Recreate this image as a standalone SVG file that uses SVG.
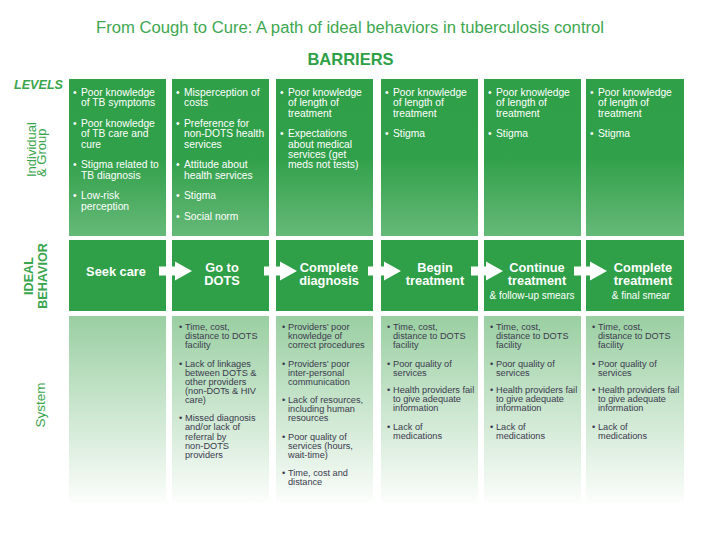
<svg xmlns="http://www.w3.org/2000/svg" width="708" height="539" viewBox="0 0 708 539">
<defs>
<linearGradient id="gTop" x1="0" y1="0" x2="0" y2="1">
<stop offset="0" stop-color="#2f9f48"/>
<stop offset="0.5" stop-color="#31a04a"/>
<stop offset="1" stop-color="#66b978"/>
</linearGradient>
<linearGradient id="gBot" x1="0" y1="0" x2="0" y2="1">
<stop offset="0" stop-color="#9acfa2"/>
<stop offset="1" stop-color="#fbfdfb"/>
</linearGradient>
<style>
text{font-family:"Liberation Sans",Arial,Helvetica,sans-serif}
.top{fill:url(#gTop)}
.mid{fill:#2f9f48}
.bot{fill:url(#gBot)}
.tt{fill:#ffffff;font-size:10.3px}
.mt{fill:#ffffff;font-size:12.8px;font-weight:bold;text-anchor:middle}
.ms{fill:#ffffff;font-size:10px;text-anchor:middle}
.bt{fill:#3b3a4e;font-size:9.2px}
.lab{fill:#3aa54d}
.arrow{fill:#ffffff}
</style>
</defs>
<rect width="708" height="539" fill="#ffffff"/>
<g id="title">
<text x="350" y="33" text-anchor="middle" font-size="16" fill="#3ea750" textLength="508" lengthAdjust="spacingAndGlyphs">From Cough to Cure: A path of ideal behaviors in tuberculosis control</text>
<text x="350.5" y="65" text-anchor="middle" font-size="16.5" font-weight="bold" fill="#2f9f48">BARRIERS</text>
</g>
<g id="labels">
<text class="lab" x="14" y="89" font-size="12.6" font-weight="bold" font-style="italic">LEVELS</text>
<text class="lab" font-size="13" transform="translate(36,177) rotate(-90)">Individual</text>
<text class="lab" font-size="13" transform="translate(46,177) rotate(-90)">&amp; Group</text>
<text class="lab" font-size="12.6" font-weight="bold" text-anchor="middle" transform="translate(33,276) rotate(-90)">IDEAL</text>
<text class="lab" font-size="12.6" font-weight="bold" text-anchor="middle" transform="translate(47,276) rotate(-90)">BEHAVIOR</text>
<text class="lab" font-size="13.5" text-anchor="middle" transform="translate(45,405) rotate(-90)">System</text>
</g>
<g id="barrier-1">
<rect class="top" x="69" y="79" width="97" height="157"/>
<g class="tt">
<text x="73" y="96">•</text><text x="81" y="96">Poor knowledge</text><text x="81" y="106.3">of TB symptoms</text>
<text x="73" y="127">•</text><text x="81" y="127">Poor knowledge</text><text x="81" y="137.3">of TB care and</text><text x="81" y="147.6">cure</text>
<text x="73" y="168.3">•</text><text x="81" y="168.3">Stigma related to</text><text x="81" y="178.6">TB diagnosis</text>
<text x="73" y="199.3">•</text><text x="81" y="199.3">Low-risk</text><text x="81" y="209.6">perception</text>
</g>
</g>
<g id="barrier-2">
<rect class="top" x="172" y="79" width="97" height="157"/>
<g class="tt">
<text x="176" y="96">•</text><text x="184" y="96">Misperception of</text><text x="184" y="106.3">costs</text>
<text x="176" y="127">•</text><text x="184" y="127">Preference for</text><text x="184" y="137.3">non-DOTS health</text><text x="184" y="147.6">services</text>
<text x="176" y="168.3">•</text><text x="184" y="168.3">Attitude about</text><text x="184" y="178.6">health services</text>
<text x="176" y="199.3">•</text><text x="184" y="199.3">Stigma</text>
<text x="176" y="220">•</text><text x="184" y="220">Social norm</text>
</g>
</g>
<g id="barrier-3">
<rect class="top" x="276" y="79" width="97" height="157"/>
<g class="tt">
<text x="280" y="96">•</text><text x="288" y="96">Poor knowledge</text><text x="288" y="106.3">of length of</text><text x="288" y="116.6">treatment</text>
<text x="280" y="137.3">•</text><text x="288" y="137.3">Expectations</text><text x="288" y="147.6">about medical</text><text x="288" y="157.9">services (get</text><text x="288" y="168.2">meds not tests)</text>
</g>
</g>
<g id="barrier-4">
<rect class="top" x="381" y="79" width="97" height="157"/>
<g class="tt">
<text x="385" y="96">•</text><text x="393" y="96">Poor knowledge</text><text x="393" y="106.3">of length of</text><text x="393" y="116.6">treatment</text>
<text x="385" y="137.3">•</text><text x="393" y="137.3">Stigma</text>
</g>
</g>
<g id="barrier-5">
<rect class="top" x="484" y="79" width="97" height="157"/>
<g class="tt">
<text x="488" y="96">•</text><text x="496" y="96">Poor knowledge</text><text x="496" y="106.3">of length of</text><text x="496" y="116.6">treatment</text>
<text x="488" y="137.3">•</text><text x="496" y="137.3">Stigma</text>
</g>
</g>
<g id="barrier-6">
<rect class="top" x="586" y="79" width="98" height="157"/>
<g class="tt">
<text x="590" y="96">•</text><text x="598" y="96">Poor knowledge</text><text x="598" y="106.3">of length of</text><text x="598" y="116.6">treatment</text>
<text x="590" y="137.3">•</text><text x="598" y="137.3">Stigma</text>
</g>
</g>
<g id="behavior-1">
<rect class="mid" x="69" y="240" width="97" height="71"/>
<text class="mt" x="116" y="276">Seek care</text>
</g>
<g id="behavior-2">
<rect class="mid" x="172" y="240" width="97" height="71"/>
<text class="mt" x="222" y="271.5">Go to</text><text class="mt" x="222" y="285">DOTS</text>
</g>
<g id="behavior-3">
<rect class="mid" x="276" y="240" width="97" height="71"/>
<text class="mt" x="329" y="271.5">Complete</text><text class="mt" x="329" y="285">diagnosis</text>
</g>
<g id="behavior-4">
<rect class="mid" x="381" y="240" width="97" height="71"/>
<text class="mt" x="435" y="271.5">Begin</text><text class="mt" x="435" y="285">treatment</text>
</g>
<g id="behavior-5">
<rect class="mid" x="484" y="240" width="97" height="71"/>
<text class="mt" x="537" y="271.5">Continue</text><text class="mt" x="537" y="285">treatment</text>
<text class="ms" x="532" y="299">&amp; follow-up smears</text>
</g>
<g id="behavior-6">
<rect class="mid" x="586" y="240" width="98" height="71"/>
<text class="mt" x="643" y="271.5">Complete</text><text class="mt" x="643" y="285">treatment</text>
<text class="ms" x="641" y="299">&amp; final smear</text>
</g>
<g id="system-1">
<rect class="bot" x="69" y="316" width="97" height="186"/>
</g>
<g id="system-2">
<rect class="bot" x="172" y="316" width="97" height="186"/>
<g class="bt">
<text x="179" y="330">•</text><text x="185" y="330">Time, cost,</text><text x="185" y="339">distance to DOTS</text><text x="185" y="348">facility</text>
<text x="179" y="366.5">•</text><text x="185" y="366.5">Lack of linkages</text><text x="185" y="375.5">between DOTS &amp;</text><text x="185" y="384.5">other providers</text><text x="185" y="393.5">(non-DOTs &amp; HIV</text><text x="185" y="402.5">care)</text>
<text x="179" y="421">•</text><text x="185" y="421">Missed diagnosis</text><text x="185" y="430">and/or lack of</text><text x="185" y="439.5">referral by</text><text x="185" y="448.5">non-DOTS</text><text x="185" y="457.5">providers</text>
</g>
</g>
<g id="system-3">
<rect class="bot" x="276" y="316" width="97" height="186"/>
<g class="bt">
<text x="282" y="330">•</text><text x="288" y="330">Providers’ poor</text><text x="288" y="339">knowledge of</text><text x="288" y="348">correct procedures</text>
<text x="282" y="366.5">•</text><text x="288" y="366.5">Providers’ poor</text><text x="288" y="375.5">inter-personal</text><text x="288" y="384.5">communication</text>
<text x="282" y="403">•</text><text x="288" y="403">Lack of resources,</text><text x="288" y="412">including human</text><text x="288" y="421">resources</text>
<text x="282" y="439.5">•</text><text x="288" y="439.5">Poor quality of</text><text x="288" y="448.5">services (hours,</text><text x="288" y="457.5">wait-time)</text>
<text x="282" y="476">•</text><text x="288" y="476">Time, cost and</text><text x="288" y="485">distance</text>
</g>
</g>
<g id="system-4">
<rect class="bot" x="381" y="316" width="97" height="186"/>
<g class="bt">
<text x="387" y="330">•</text><text x="393" y="330">Time, cost,</text><text x="393" y="339">distance to DOTS</text><text x="393" y="348">facility</text>
<text x="387" y="366.5">•</text><text x="393" y="366.5">Poor quality of</text><text x="393" y="375.5">services</text>
<text x="387" y="393">•</text><text x="393" y="393">Health providers fail</text><text x="393" y="402">to give adequate</text><text x="393" y="411">information</text>
<text x="387" y="429.5">•</text><text x="393" y="429.5">Lack of</text><text x="393" y="438.5">medications</text>
</g>
</g>
<g id="system-5">
<rect class="bot" x="484" y="316" width="97" height="186"/>
<g class="bt">
<text x="490" y="330">•</text><text x="496" y="330">Time, cost,</text><text x="496" y="339">distance to DOTS</text><text x="496" y="348">facility</text>
<text x="490" y="366.5">•</text><text x="496" y="366.5">Poor quality of</text><text x="496" y="375.5">services</text>
<text x="490" y="393">•</text><text x="496" y="393">Health providers fail</text><text x="496" y="402">to give adequate</text><text x="496" y="411">information</text>
<text x="490" y="429.5">•</text><text x="496" y="429.5">Lack of</text><text x="496" y="438.5">medications</text>
</g>
</g>
<g id="system-6">
<rect class="bot" x="586" y="316" width="98" height="186"/>
<g class="bt">
<text x="592" y="330">•</text><text x="598" y="330">Time, cost,</text><text x="598" y="339">distance to DOTS</text><text x="598" y="348">facility</text>
<text x="592" y="366.5">•</text><text x="598" y="366.5">Poor quality of</text><text x="598" y="375.5">services</text>
<text x="592" y="393">•</text><text x="598" y="393">Health providers fail</text><text x="598" y="402">to give adequate</text><text x="598" y="411">information</text>
<text x="592" y="429.5">•</text><text x="598" y="429.5">Lack of</text><text x="598" y="438.5">medications</text>
</g>
</g>
<g id="connectors">
<path class="arrow" d="M159 266.5H175V261.5L192 271L175 280.5V275.5H159Z"/>
<path class="arrow" d="M264 266.5H280V261.5L297 271L280 280.5V275.5H264Z"/>
<path class="arrow" d="M368 266.5H384V261.5L401 271L384 280.5V275.5H368Z"/>
<path class="arrow" d="M471 266.5H486V261.5L503 271L486 280.5V275.5H471Z"/>
<path class="arrow" d="M574 266.5H590V261.5L607 271L590 280.5V275.5H574Z"/>
</g>
</svg>
